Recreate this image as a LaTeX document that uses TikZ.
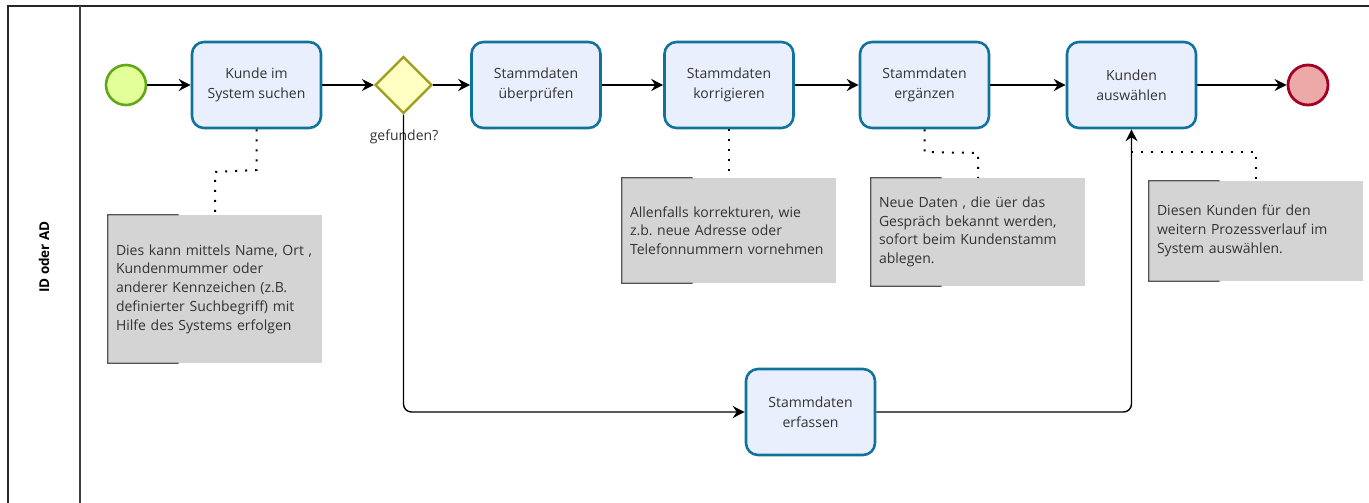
\documentclass[tikz,border=0pt]{standalone}
\usepackage{fontspec}
\setmainfont{Open Sans}
\usetikzlibrary{arrows.meta,calc,shapes.geometric}
\frenchspacing

\definecolor{taskfill}{HTML}{EAEFFD}
\definecolor{taskline}{HTML}{10739E}
\definecolor{gwfill}{HTML}{FFFFC4}
\definecolor{gwline}{HTML}{9E9E1C}
\definecolor{startfill}{HTML}{E2FF99}
\definecolor{startline}{HTML}{62A81A}
\definecolor{endfill}{HTML}{EDA8A8}
\definecolor{endline}{HTML}{A20025}
\definecolor{notefill}{HTML}{D4D4D4}
\definecolor{noteline}{HTML}{555555}
\definecolor{txt}{HTML}{333333}

\begin{document}
\begin{tikzpicture}[x=1pt,y=-1pt,
  task/.style={rectangle, rounded corners=12pt, draw=taskline, fill=taskfill,
    line width=2.6pt, minimum width=129pt, minimum height=86pt, inner sep=2pt,
    align=center, text=txt, font=\fontsize{14}{19.5}\selectfont},
  gateway/.style={diamond, draw=gwline, fill=gwfill, line width=2.2pt,
    minimum width=57pt, minimum height=57pt, inner sep=0pt},
  startev/.style={circle, draw=startline, fill=startfill, line width=2.6pt,
    minimum size=40pt, inner sep=0pt},
  endev/.style={circle, draw=endline, fill=endfill, line width=2.8pt,
    minimum size=40pt, inner sep=0pt},
  note/.style={rectangle, fill=notefill, inner xsep=8pt, inner ysep=4pt,
    align=left, text=txt, font=\fontsize{14}{18.7}\selectfont},
  bracket/.style={draw=noteline, line width=1.2pt},
  flow/.style={draw=black, line width=1.4pt,
    -{Stealth[length=12pt, width=12pt, inset=4pt]}},
  assoc/.style={draw=black, line width=2pt, dash pattern=on 2pt off 8pt},
  frame/.style={draw=black!85, line width=1.6pt},
  lbl/.style={text=txt, font=\fontsize{14}{16}\selectfont}
]
\useasboundingbox (0,0) rectangle (1369,503);

% pool frame with lane header
\draw[frame] (8,503) -- (8,6) -- (1369,6);
\draw[frame, draw=black!75] (80,6) -- (80,503);
\node[rotate=90, text=black, font=\bfseries\fontsize{13.5}{15}\selectfont] (lane) at (44,257) {ID oder AD};

% events, tasks and gateway
\node[startev] (start) at (126,85) {};
\node[task] (t1) at (256.5,85) {Kunde im\\System suchen};
\node[gateway] (gw) at (403.5,85) {};
\node[lbl] (gwl) at (404,137) {gefunden?};
\node[task] (t2) at (536,85) {Stammdaten\\überprüfen};
\node[task] (t3) at (729,85) {Stammdaten\\korrigieren};
\node[task] (t4) at (924.5,85) {Stammdaten\\ergänzen};
\node[task] (t5) at (1131.5,85) {Kunden\\auswählen};
\node[endev] (end) at (1308,85) {};
\node[task] (t6) at (810.5,412) {Stammdaten\\erfassen};

% sequence flows
\draw[flow] (start) -- (t1);
\draw[flow] (t1) -- (gw);
\draw[flow] (gw) -- (t2);
\draw[flow] (t2) -- (t3);
\draw[flow] (t3) -- (t4);
\draw[flow] (t4) -- (t5);
\draw[flow] (t5) -- (end);
\draw[flow, rounded corners=8pt] (gw.south) |- (t6.west);
\draw[flow, rounded corners=8pt] (t6.east) -| (t5.south);

% text annotations
\node[note, text width=198pt, minimum height=148pt] (a1) at (215,289)
  {Dies kann mittels Name, Ort ,\\Kundenmummer oder\\anderer Kennzeichen (z.B.\\definierter Suchbegriff) mit\\Hilfe des Systems erfolgen};
\node[note, text width=198pt, minimum height=105pt] (a2) at (729,230.5)
  {Allenfalls korrekturen, wie\\z.b. neue Adresse oder\\Telefonnummern vornehmen};
\node[note, text width=198pt, minimum height=108pt] (a3) at (978,232)
  {Neue Daten , die üer das\\Gespräch bekannt werden,\\sofort beim Kundenstamm\\ablegen.};
\node[note, text width=198pt, minimum height=100pt] (a4) at (1256,231)
  {Diesen Kunden für den\\weitern Prozessverlauf im\\System auswählen.};

\foreach \a in {a1,a2,a3,a4}{
  \draw[bracket] ($(\a.north west)!0.33!(\a.north east)$) -- (\a.north west)
    -- (\a.south west) -- ($(\a.south west)!0.33!(\a.south east)$);
}

% associations
\coordinate (k4) at (1131,152);
\draw[assoc] (t1.south) -- (t1.south |- 0,170) -- (a1.north |- 0,172) -- (a1.north);
\draw[assoc] (t3.south) -- (a2.north);
\draw[assoc] (t4.south) -- (t4.south |- 0,152) -- (a3.north |- 0,153) -- (a3.north);
\draw[assoc] (k4) -- (a4.north |- k4) -- (a4.north);
\end{tikzpicture}
\end{document}
